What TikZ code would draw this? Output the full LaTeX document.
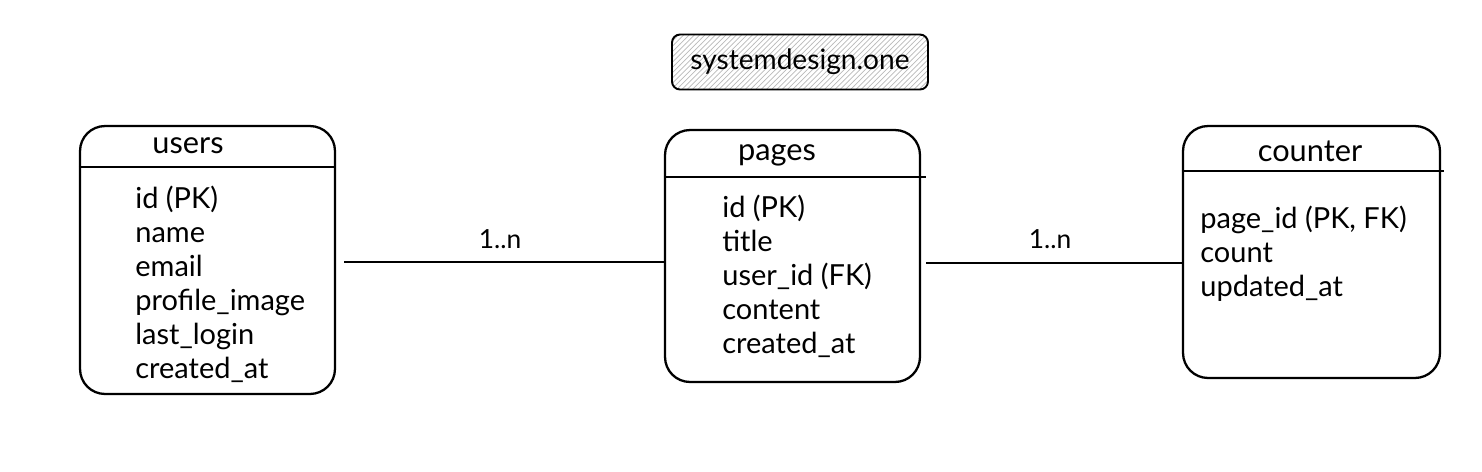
\documentclass[tikz,border=0pt]{standalone}
\usepackage{fontspec}
\setmainfont{Lato}
\usepackage{tikz}
\usetikzlibrary{patterns}

\tikzset{
  tablebox/.style={draw,line width=1.3pt,rounded corners=0.5cm,inner sep=0pt},
  headline/.style={line width=1.3pt},
  titletext/.style={font=\fontsize{17.5}{20}\selectfont},
  fieldtext/.style={anchor=north west,inner sep=0pt,align=left,font=\fontsize{16.5}{19.3}\selectfont},
  relline/.style={line width=1.1pt},
  cardtext/.style={font=\fontsize{15}{18}\selectfont}
}

\begin{document}
\begin{tikzpicture}[x=0.02cm,y=-0.02cm,line join=round]
  \useasboundingbox (0,0) rectangle (1482,471);
  % watermark
  \node[draw,line width=1.1pt,rounded corners=0.16cm,pattern=north east lines,pattern color=gray!55,
        minimum width=5.12cm,minimum height=1.1cm] (mark) at (800,62) {};
  \node[font=\fontsize{16}{19}\selectfont] (marktext) at (mark.center) {systemdesign.one};
  % tables
  \node[tablebox,minimum width=5.1cm,minimum height=5.36cm] (users) at (207.5,260) {};
  \node[tablebox,minimum width=5.1cm,minimum height=5.04cm] (pages) at (792.5,256) {};
  \node[tablebox,minimum width=5.14cm,minimum height=5.04cm] (counter) at (1311.5,252) {};
  \draw[headline] ([yshift=-0.84cm]users.north west) -- ([xshift=-0.04cm,yshift=-0.84cm]users.north east);
  \draw[headline] ([yshift=-0.96cm]pages.north west) -- ([xshift=0.1cm,yshift=-0.96cm]pages.north east);
  \draw[headline] ([yshift=-0.92cm]counter.north west) -- ([xshift=0.06cm,yshift=-0.92cm]counter.north east);
  % titles
  \node[titletext] (userstitle) at (188,146) {users};
  \node[titletext] (pagestitle) at (777,155) {pages};
  \node[titletext] (countertitle) at (1310,151) {counter};
  % fields
  \node[fieldtext] (usersfields) at (135,186) {id (PK)\\name\\email\\profile\_image\\last\_login\\created\_at};
  \node[fieldtext] (pagesfields) at (722,195) {id (PK)\\title\\user\_id (FK)\\content\\created\_at};
  \node[fieldtext] (counterfields) at (1200,206) {page\_id (PK, FK)\\count\\updated\_at};
  % relations
  \draw[relline] (users.east) ++(0.16cm,-0.04cm) coordinate (r1) -- (r1 -| pages.west);
  \draw[relline] (pages.east) ++(0.1cm,-0.14cm) coordinate (r2) -- (r2 -| counter.west);
  \node[cardtext] (card1) at (500,239) {1..n};
  \node[cardtext] (card2) at (1050,239) {1..n};
\end{tikzpicture}
\end{document}
